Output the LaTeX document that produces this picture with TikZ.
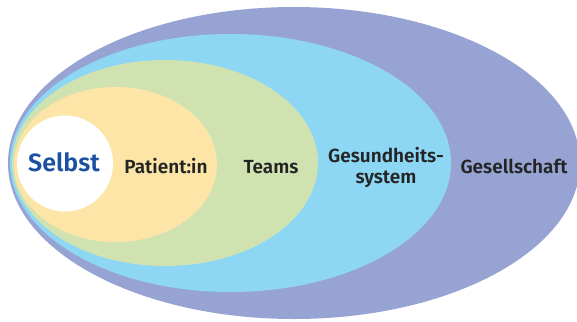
\documentclass[tikz,border=0pt]{standalone}
\usepackage{fontspec}
\setmainfont{Fira Sans}
\newfontfamily\labelfont{Fira Sans SemiBold}
\definecolor{gesellschaft}{HTML}{97A4D3}
\definecolor{system}{HTML}{8DD7F5}
\definecolor{teams}{HTML}{D1E2B1}
\definecolor{patient}{HTML}{FDE5A8}
\definecolor{selbstblue}{HTML}{1B51A0}
\definecolor{ink}{HTML}{242424}
\tikzset{
  ring/.style={inner sep=0pt,text=ink,font=\labelfont\fontsize{19}{21}\selectfont},
}

\begin{document}
\begin{tikzpicture}[x=1pt,y=-1pt]
\useasboundingbox (0,0) rectangle (577,321);
\clip (0,0) rectangle (577,321);
\fill[gesellschaft] (294,163) ellipse [x radius=286,y radius=156];
\fill[system] (230.5,163) ellipse [x radius=220.5,y radius=129];
\fill[teams] (165,163) ellipse [x radius=153,y radius=103];
\fill[patient] (115.5,164.5) ellipse [x radius=101.5,y radius=77.5];
\fill[white] (65,163.5) circle [radius=48];
\node[ring,anchor=base,text=selbstblue,font=\labelfont\fontsize{25}{28}\selectfont] (selbst) at (64,171) {Selbst};
\node[ring,anchor=base] (patientin) at (166,173) {Patient:in};
\node[ring,anchor=base] (teams) at (271,173) {Teams};
\node[ring,align=center] (gesundheit) at (386,167) {Gesundheits-\\system};
\node[ring,anchor=base] (gesellschaft) at (514,173) {Gesellschaft};
\end{tikzpicture}
\end{document}
